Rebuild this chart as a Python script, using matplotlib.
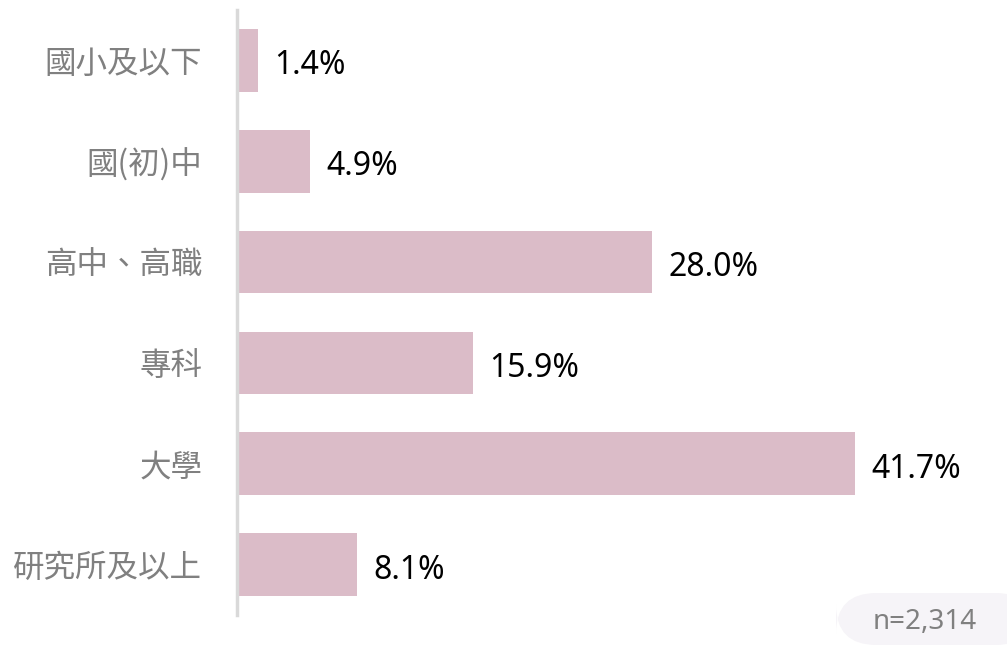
import matplotlib.pyplot as plt
from matplotlib.patches import FancyBboxPatch

plt.rcParams['font.family'] = ['Noto Sans', 'Noto Sans CJK TC', 'DejaVu Sans']

# Data
categories = ["國小及以下", "國(初)中", "高中、高職", "專科", "大學", "研究所及以上"]
values = [1.4, 4.9, 28.0, 15.9, 41.7, 8.1]
sample_note = "n=2,314"

bar_color = "#dbbcc8"
label_color = "#808080"

fig = plt.figure(figsize=(10.07, 6.46), dpi=100)
ax = fig.add_axes([237 / 1007, 31 / 646, 763 / 1007, 605 / 646])

y = list(range(len(categories)))
ax.barh(y, values, height=0.62, color=bar_color)

for yi, v in zip(y, values):
    ax.annotate(f"{v:.1f}%", xy=(v, yi), xytext=(12, -4), textcoords="offset points",
                va="center", ha="left", fontsize=23, color="black")

ax.set_yticks(y)
ax.set_yticklabels(categories, family=['Noto Sans CJK TC', 'DejaVu Sans'],
                   fontsize=22.7, color=label_color)
ax.tick_params(axis="y", length=0, pad=25)
ax.set_xticks([])
ax.set_xlim(0, 51.5)
ax.set_ylim(5.5, -0.5)

for s in ["top", "right", "bottom"]:
    ax.spines[s].set_visible(False)
ax.spines["left"].set_color("#d9d9d9")
ax.spines["left"].set_linewidth(2.5)

# sample size box
box = FancyBboxPatch((836 / 1007, 1 / 646), 200 / 1007, 52 / 646,
                     boxstyle="round,pad=0,rounding_size=0.04",
                     transform=fig.transFigure, facecolor="#f6f4f8",
                     edgecolor="none", mutation_aspect=1007 / 646)
fig.patches.append(box)
fig.text(925 / 1007, 24 / 646, sample_note, ha="center", va="center",
         fontsize=20, color=label_color)

fig.savefig("out.png", dpi=100, facecolor="white")
